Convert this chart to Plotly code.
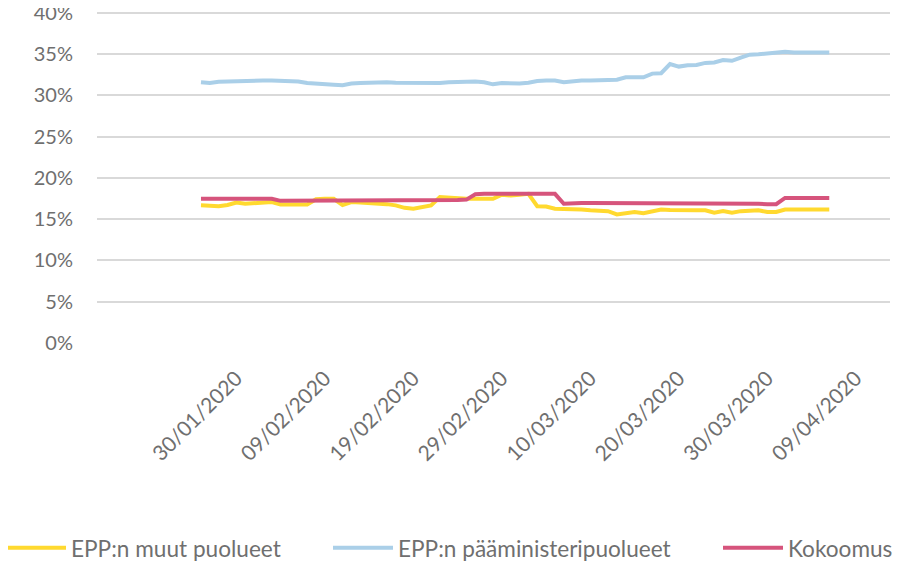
import pandas as pd
import plotly.graph_objects as go

dates = pd.date_range("2020-01-25", "2020-04-05", freq="D")

epp_muut = [16.8, 16.75, 16.7, 16.85, 17.15, 17.0, 17.05, 17.15, 17.2, 16.9,
            16.85, 16.9, 16.9, 17.55, 17.6, 17.6, 16.85, 17.2, 17.15, 17.1,
            17.1, 16.95, 16.8, 16.5, 16.4, 16.65, 16.8, 17.8, 17.7, 17.65,
            17.6, 17.6, 17.6, 17.6, 18.1, 18.0, 18.1, 18.2, 16.7, 16.65,
            16.4, 16.4, 16.4, 16.3, 16.2, 16.2, 16.1, 15.7, 15.85, 16.0,
            15.85, 16.05, 16.3, 16.25, 16.2, 16.2, 16.2, 16.2, 15.9, 16.1,
            15.9, 16.1, 16.2, 16.2, 16.0, 16.0, 16.3, 16.3, 16.3, 16.3,
            16.3, 16.3]
epp_pm = [31.7, 31.6, 31.75, 31.8, 31.8, 31.9, 31.9, 31.9, 31.9, 31.9,
          31.9, 31.8, 31.6, 31.5, 31.45, 31.4, 31.35, 31.55, 31.6, 31.65,
          31.7, 31.7, 31.65, 31.65, 31.65, 31.6, 31.55, 31.6, 31.7, 31.75,
          31.8, 31.8, 31.7, 31.45, 31.6, 31.55, 31.55, 31.65, 31.85, 31.9,
          31.9, 31.7, 31.85, 31.9, 31.9, 31.9, 31.9, 32.0, 32.3, 32.3,
          32.3, 32.75, 32.8, 33.9, 33.6, 33.75, 33.8, 34.05, 34.1, 34.4,
          34.3, 34.7, 35.05, 35.1, 35.2, 35.3, 35.4, 35.3, 35.3, 35.3,
          35.3, 35.3]
kokoomus = [17.6, 17.6, 17.6, 17.6, 17.6, 17.6, 17.6, 17.6, 17.6, 17.35,
            17.35, 17.35, 17.45, 17.45, 17.45, 17.45, 17.45, 17.45, 17.45, 17.45,
            17.45, 17.45, 17.45, 17.45, 17.45, 17.45, 17.45, 17.45, 17.45, 17.45,
            17.5, 18.15, 18.2, 18.2, 18.2, 18.2, 18.2, 18.2, 18.2, 18.2,
            18.2, 17.0, 17.1, 17.1, 17.1, 17.1, 17.1, 17.1, 17.1, 17.1,
            17.1, 17.1, 17.1, 17.1, 17.1, 17.0, 17.0, 17.0, 17.0, 17.0,
            17.0, 17.0, 17.0, 17.0, 16.95, 16.95, 17.7, 17.7, 17.7, 17.7,
            17.7, 17.7]

# shift to match gridline calibration
epp_muut = [v - 0.12 for v in epp_muut]
epp_pm = [v - 0.1 for v in epp_pm]
kokoomus = [v - 0.12 for v in kokoomus]

series_names = ["EPP:n muut puolueet", "EPP:n pääministeripuolueet", "Kokoomus"]
series_colors = ["#FFD92F", "#AACFE8", "#D6547C"]
tick_dates = pd.date_range("2020-01-30", periods=8, freq="10D")
tick_labels = [d.strftime("%d/%m/%Y") for d in tick_dates]
y_ticks = list(range(0, 45, 5))
y_tick_labels = [f"{v}%" for v in y_ticks]

FONT = "Lato"
TXT = "#6f6f6f"

fig = go.Figure()
legends = ["legend", "legend2", "legend3"]
for name, vals, col, lg in zip(series_names, [epp_muut, epp_pm, kokoomus], series_colors, legends):
    fig.add_trace(go.Scatter(x=dates, y=vals, mode="lines", name=name,
                             line=dict(color=col, width=4), legend=lg,
                             showlegend=True))

OFF = 8  # page body margin
W, H = 903 - OFF, 562 - OFF
L, R, T, B = 89, 13, 1, 219
pw = W - L - R
ph = H - T - B

def px_x(p):  # page pixel -> paper x
    return (p - OFF - L) / pw

def px_y(p):  # page pixel -> paper y
    return (H - B - (p - OFF)) / ph

leg_common = dict(orientation="h", xanchor="left", yanchor="middle",
                  font=dict(family=FONT, size=22.6, color=TXT),
                  bgcolor="rgba(0,0,0,0)", itemwidth=60, visible=True)
fig.update_layout(
    width=W, height=H,
    showlegend=True,
    margin=dict(l=L, r=R, t=T, b=B, autoexpand=False),
    paper_bgcolor="white", plot_bgcolor="white",
    font=dict(family=FONT, color=TXT),
    legend=dict(x=px_x(1), y=px_y(548), **leg_common),
    legend2=dict(x=px_x(328), y=px_y(548), **leg_common),
    legend3=dict(x=px_x(718), y=px_y(548), **leg_common),
    xaxis=dict(range=["2020-01-13 06:00", "2020-04-11 20:40"],
               tickvals=tick_dates, ticktext=tick_labels, tickangle=-45,
               showgrid=False, showline=False, zeroline=False,
               ticks="", ticklabelstandoff=18, ticklabelshift=-9,
               automargin=False, ticklabeloverflow="allow",
               tickfont=dict(family=FONT, size=21, color=TXT)),
    yaxis=dict(range=[0, 40.48], tickvals=y_ticks, ticktext=y_tick_labels,
               showgrid=True, gridcolor="#D9D9D9", gridwidth=1.5,
               zeroline=False, showline=False, ticks="",
               ticklabelstandoff=23, automargin=False,
               ticklabeloverflow="allow",
               tickfont=dict(family=FONT, size=20, color=TXT)),
)
fig.write_html("out.html")
